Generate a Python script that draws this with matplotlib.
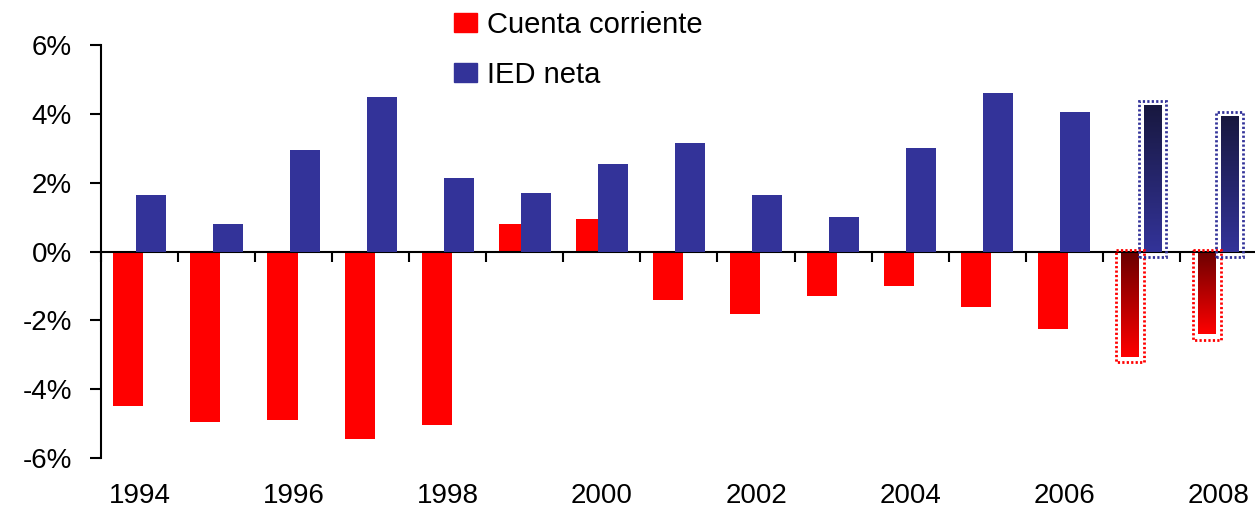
import numpy as np
import matplotlib.pyplot as plt
from matplotlib.patches import Patch, Rectangle
from matplotlib.colors import LinearSegmentedColormap

plt.rcParams['font.family'] = ['Liberation Sans', 'DejaVu Sans']

# Datos (% del PIB)
years = [1994, 1995, 1996, 1997, 1998, 1999, 2000, 2001, 2002, 2003, 2004, 2005, 2006, 2007, 2008]
cuenta_corriente = [-4.5, -4.95, -4.9, -5.45, -5.05, 0.8, 0.95, -1.4, -1.8, -1.3, -1.0, -1.6, -2.25, -3.05, -2.4]
ied_neta = [1.65, 0.8, 2.95, 4.5, 2.15, 1.7, 2.55, 3.15, 1.65, 1.0, 3.0, 4.6, 4.05, 4.25, 3.95]
proyeccion = [2007, 2008]
year_labels = [1994, 1996, 1998, 2000, 2002, 2004, 2006, 2008]
y_ticks = [-6, -4, -2, 0, 2, 4, 6]

red = '#FF0000'
blue = '#333399'
w = 0.39      # ancho barra
off = 0.145   # desplazamiento de cada serie
wp = 0.23     # ancho relleno proyeccion

fig = plt.figure(figsize=(12.55, 5.19), dpi=100)
ax = fig.add_axes([0.0805, 0.1175, 0.921, 0.7955])

x = np.array(years, dtype=float)
hist = [y not in proyeccion for y in years]
proj = [y in proyeccion for y in years]

ax.bar(x[hist] - off, np.array(cuenta_corriente)[hist], width=w, color=red, zorder=2)
ax.bar(x[hist] + off, np.array(ied_neta)[hist], width=w, color=blue, zorder=3)

cm_red = LinearSegmentedColormap.from_list('r', ['#6b0000', red])
cm_blue = LinearSegmentedColormap.from_list('b', ['#18183f', blue])
grad = np.linspace(0, 1, 256).reshape(-1, 1)
dots = (0, (0.8, 0.8))

for xi, cc, ied in zip(x[proj], np.array(cuenta_corriente)[proj], np.array(ied_neta)[proj]):
    # cuenta corriente: oscuro cerca de cero, brillante abajo
    b = ax.bar(xi - off, cc, width=wp, color='none', zorder=2)[0]
    im = ax.imshow(grad, cmap=cm_red, aspect='auto', zorder=2,
                   extent=[xi - off - wp / 2, xi - off + wp / 2, 0, cc], origin='lower')
    im.set_clip_path(b)
    ax.add_patch(Rectangle((xi - off - 0.18, 0.05), 0.36, cc - 0.22,
                           fill=False, ec=red, ls=dots, lw=2, zorder=4))
    # IED: oscuro arriba
    b = ax.bar(xi + off, ied, width=wp, color='none', zorder=3)[0]
    im = ax.imshow(grad, cmap=cm_blue, aspect='auto', zorder=3,
                   extent=[xi + off - wp / 2, xi + off + wp / 2, ied, 0], origin='lower')
    im.set_clip_path(b)
    ax.add_patch(Rectangle((xi + off - 0.18, -0.17), 0.36, ied + 0.29,
                           fill=False, ec=blue, ls=dots, lw=2, zorder=4))

ax.set_xlim(1993.5, 2008.5)
ax.set_ylim(-6, 6)

for s in ['top', 'right']:
    ax.spines[s].set_visible(False)
ax.spines['bottom'].set_position(('data', 0))
ax.spines['left'].set_linewidth(1.5)
ax.spines['bottom'].set_linewidth(1.5)
ax.spines['left'].set_bounds(-6, 6)

ax.set_yticks(y_ticks)
ax.set_yticklabels([f'{v}%' for v in y_ticks])
ax.tick_params(axis='y', direction='out', length=8, width=1.5, labelsize=20, pad=13)

ax.set_xticks(np.arange(1993.5, 2009, 1.0))
ax.set_xticklabels([])
ax.tick_params(axis='x', direction='out', length=7, width=1.5)

sec = ax.secondary_xaxis(0.0)
sec.set_xticks(year_labels)
sec.set_xticklabels([str(y) for y in year_labels])
sec.tick_params(length=0, labelsize=20, pad=18)
sec.spines['bottom'].set_visible(False)

handles = [Patch(color=red, label='Cuenta corriente'), Patch(color=blue, label='IED neta')]
fig.legend(handles=handles, loc='upper left', bbox_to_anchor=(0.341, 1.03), frameon=False,
           fontsize=21, handlelength=0.79, handleheight=0.65, handletextpad=0.35, labelspacing=0.75)

fig.savefig('out.png', dpi=100)
